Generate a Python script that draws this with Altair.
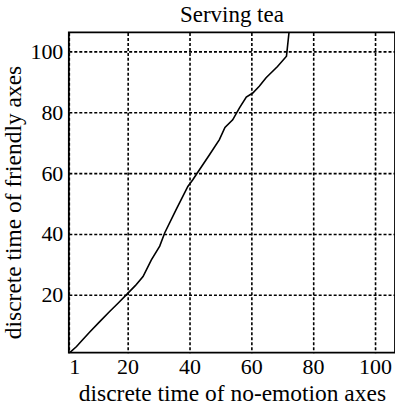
import altair as alt
import pandas as pd

x_vals = [1.3, 3.5, 5.1, 8, 11, 14.2, 17, 19.9, 22.5, 25, 27.7, 30.4, 32, 35.7, 39.5, 41.1, 43.2, 46.5, 49.7, 51.5, 54, 56.2, 58.4, 60.5, 62.6, 64.8, 68.5, 71.4, 72.3]
y_vals = [1, 3, 4.8, 8, 11.2, 14.5, 17.3, 20.3, 23, 26, 31.5, 36, 40.3, 48, 55.6, 57.8, 61, 66, 71, 75, 77.5, 81.4, 85, 86.3, 88.5, 91.3, 95, 98.4, 107]
x_ticks = [1, 20, 40, 60, 80, 100]
y_ticks = [20, 40, 60, 80, 100]

df = pd.DataFrame({"x": x_vals, "y": y_vals, "i": list(range(len(x_vals)))})

FONT = "Liberation Serif"

chart = alt.Chart(df).mark_line(color="black", strokeWidth=1.6, clip=True).encode(
    x=alt.X("x:Q", scale=alt.Scale(domain=[1, 106.5], nice=False, zero=False),
            axis=alt.Axis(values=x_ticks, title="discrete time of no-emotion axes",
                          labelPadding=4, titlePadding=4)),
    y=alt.Y("y:Q", scale=alt.Scale(domain=[1, 106.2], nice=False, zero=False),
            axis=alt.Axis(values=y_ticks, title="discrete time of friendly axes",
                          labelPadding=6, titleX=-55, titleY=170, titleBaseline="middle")),
    order="i:Q",
).properties(
    width=327,
    height=321,
    title=alt.TitleParams("Serving tea", offset=5, anchor="middle"),
    autosize=alt.AutoSizeParams(type="none"),
    padding={"left": 69, "top": 32, "right": 0, "bottom": 58},
).configure(
    background="white", font=FONT
).configure_axis(
    grid=True, gridColor="black", gridDash=[3, 2], gridWidth=1.6, gridOpacity=1,
    domain=False, ticks=False,
    labelFont=FONT, labelFontSize=22, labelColor="black",
    titleFont=FONT, titleFontSize=23.5, titleFontWeight="normal", titleColor="black",
).configure_title(
    font=FONT, fontSize=23, fontWeight="normal", color="black"
).configure_view(stroke="black", strokeWidth=1.8)

chart.save("out.html", embed_options={"renderer": "svg", "actions": False})
